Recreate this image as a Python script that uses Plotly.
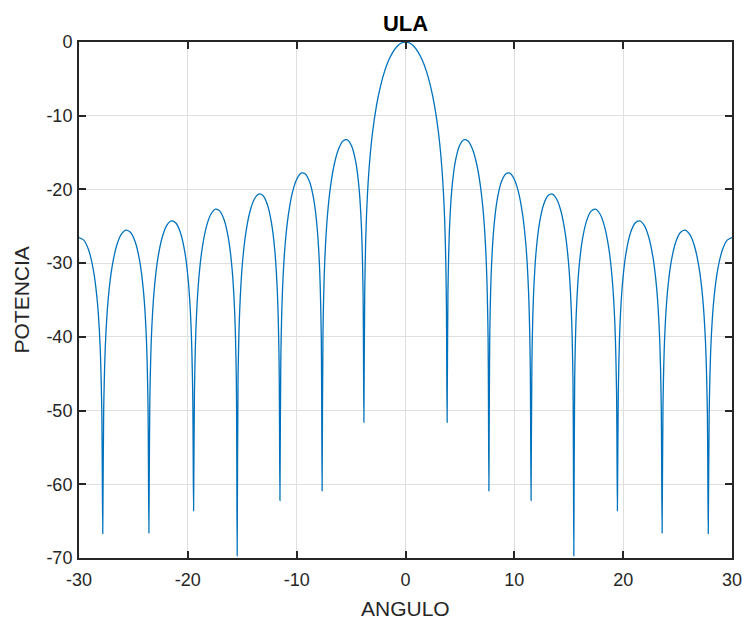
import plotly.graph_objects as go

# Radiation pattern of a uniform linear array (power in dB vs. steering angle in degrees)
angle_deg = [
    -30.000, -29.560, -29.122, -28.686, -28.338, -28.078, -27.905, -27.818,
    -27.732, -27.559, -27.301, -26.958, -26.530, -26.104, -25.679, -25.256,
    -24.834, -24.414, -24.079, -23.828, -23.662, -23.578,
    -23.495, -23.329, -23.079, -22.748, -22.334, -21.921, -21.510, -21.100,
    -20.691, -20.283, -19.958, -19.715, -19.552, -19.471,
    -19.392, -19.230, -18.987, -18.664, -18.261, -17.859, -17.458, -17.058,
    -16.659, -16.260, -15.942, -15.704, -15.545, -15.466,
    -15.387, -15.228, -14.991, -14.675, -14.280, -13.887, -13.493, -13.101,
    -12.709, -12.318, -12.005, -11.771, -11.615, -11.537,
    -11.459, -11.303, -11.070, -10.758, -10.370, -9.982, -9.594, -9.207,
    -8.820, -8.434, -8.125, -7.894, -7.739, -7.662,
    -7.585, -7.431, -7.200, -6.892, -6.508, -6.123, -5.739, -5.355,
    -4.972, -4.589, -4.282, -4.052, -3.899, -3.823,
    -3.746, -3.593, -3.363, -3.057, -2.675, -2.292, -1.910, -1.528,
    -1.146, -0.764, -0.382, 0.000,
    0.382, 0.764, 1.146, 1.528, 1.910, 2.292, 2.675, 3.057,
    3.363, 3.593, 3.746, 3.823,
    3.899, 4.052, 4.282, 4.589, 4.972, 5.355, 5.739, 6.123,
    6.508, 6.892, 7.200, 7.431, 7.585, 7.662,
    7.739, 7.894, 8.125, 8.434, 8.820, 9.207, 9.594, 9.982,
    10.370, 10.758, 11.070, 11.303, 11.459, 11.537,
    11.615, 11.771, 12.005, 12.318, 12.709, 13.101, 13.493, 13.887,
    14.280, 14.675, 14.991, 15.228, 15.387, 15.466,
    15.545, 15.704, 15.942, 16.260, 16.659, 17.058, 17.458, 17.859,
    18.261, 18.664, 18.987, 19.230, 19.392, 19.471,
    19.552, 19.715, 19.958, 20.283, 20.691, 21.100, 21.510, 21.921,
    22.334, 22.748, 23.079, 23.329, 23.495, 23.578,
    23.662, 23.828, 24.079, 24.414, 24.834, 25.256, 25.679, 26.104,
    26.530, 26.958, 27.301, 27.559, 27.732, 27.818,
    27.905, 28.078, 28.338, 28.686, 29.122, 29.560, 30.000,
]

power_db = [
    -26.53, -26.88, -28.19, -30.87, -34.85, -40.66, -50.11, -66.7,
    -50.06, -40.54, -34.61, -30.47, -27.58, -26.07, -25.52, -25.85,
    -27.13, -29.79, -33.76, -39.55, -48.99, -66.6,
    -48.94, -39.40, -33.45, -29.29, -26.38, -24.84, -24.27, -24.56,
    -25.82, -28.45, -32.39, -38.17, -47.59, -63.6,
    -47.53, -37.98, -32.01, -27.82, -24.87, -23.30, -22.68, -22.94,
    -24.16, -26.75, -30.65, -36.40, -45.81, -69.7,
    -45.73, -36.16, -30.16, -25.93, -22.93, -21.30, -20.63, -20.83,
    -21.98, -24.50, -28.35, -34.06, -43.44, -62.2,
    -43.33, -33.72, -27.68, -23.38, -20.29, -18.58, -17.80, -17.90,
    -18.93, -21.33, -25.08, -30.70, -40.03, -60.9,
    -39.85, -30.19, -24.05, -19.61, -16.35, -14.42, -13.43, -13.27,
    -14.04, -16.12, -19.59, -24.98, -34.14, -51.6,
    -33.81, -23.95, -17.51, -12.62, -8.69, -5.94, -3.92, -2.42,
    -1.33, -0.58, -0.14, 0.00,
    -0.14, -0.58, -1.33, -2.42, -3.92, -5.94, -8.69, -12.62,
    -17.51, -23.95, -33.81, -51.6,
    -34.14, -24.98, -19.59, -16.12, -14.04, -13.27, -13.43, -14.42,
    -16.35, -19.61, -24.05, -30.19, -39.85, -60.9,
    -40.03, -30.70, -25.08, -21.33, -18.93, -17.90, -17.80, -18.58,
    -20.29, -23.38, -27.68, -33.72, -43.33, -62.2,
    -43.44, -34.06, -28.35, -24.50, -21.98, -20.83, -20.63, -21.30,
    -22.93, -25.93, -30.16, -36.16, -45.73, -69.7,
    -45.81, -36.40, -30.65, -26.75, -24.16, -22.94, -22.68, -23.30,
    -24.87, -27.82, -32.01, -37.98, -47.53, -63.6,
    -47.59, -38.17, -32.39, -28.45, -25.82, -24.56, -24.27, -24.84,
    -26.38, -29.29, -33.45, -39.40, -48.94, -66.6,
    -48.99, -39.55, -33.76, -29.79, -27.13, -25.85, -25.52, -26.07,
    -27.58, -30.47, -34.61, -40.54, -50.06, -66.7,
    -50.11, -40.66, -34.85, -30.87, -28.19, -26.88, -26.53,
]

x_ticks = [-30, -20, -10, 0, 10, 20, 30]
y_ticks = [-70, -60, -50, -40, -30, -20, -10, 0]

AXIS_COLOR = "#262626"
GRID_COLOR = "#dfdfdf"
FONT = "Liberation Sans, Arial, sans-serif"

fig = go.Figure()
fig.add_trace(go.Scatter(
    x=angle_deg, y=power_db, mode="lines",
    line=dict(color="#0072BD", width=1.3, shape="spline", smoothing=0.8),
    hoverinfo="x+y", showlegend=False,
))

axis_common = dict(
    showline=True, linecolor=AXIS_COLOR, linewidth=2, mirror="ticks",
    ticks="inside", ticklen=7, tickwidth=1.5, tickcolor=AXIS_COLOR,
    showgrid=True, gridcolor=GRID_COLOR, gridwidth=1,
    zeroline=False, automargin=False,
    tickfont=dict(family=FONT, size=18, color=AXIS_COLOR),
)

fig.update_xaxes(
    range=[-30, 30], tickvals=x_ticks, ticktext=[str(v) for v in x_ticks],
    ticklabelstandoff=4,
    **axis_common,
)
fig.update_yaxes(
    range=[-70, 0], tickvals=y_ticks, ticktext=[str(v) for v in y_ticks],
    ticklabelstandoff=1,
    **axis_common,
)

# Axis titles placed as paper-anchored annotations
fig.add_annotation(
    text="ANGULO", xref="paper", yref="paper", x=0.5, y=-0.0988,
    xanchor="center", yanchor="middle", showarrow=False,
    font=dict(family=FONT, size=21, color=AXIS_COLOR),
)
fig.add_annotation(
    text="POTENCIA", xref="paper", yref="paper", x=-0.0881, y=0.5,
    xanchor="center", yanchor="middle", showarrow=False, textangle=-90,
    font=dict(family=FONT, size=21, color=AXIS_COLOR),
)

fig.update_layout(
    width=746, height=621,
    margin=dict(l=79, r=14, t=42, b=63),
    paper_bgcolor="white", plot_bgcolor="white",
    title=dict(
        text="<b>ULA</b>", x=405.5 / 746, xanchor="center",
        y=1 - 23.5 / 621, yanchor="middle", yref="container",
        font=dict(family=FONT, size=22, color="black"),
    ),
)

fig.write_html("out.html")
